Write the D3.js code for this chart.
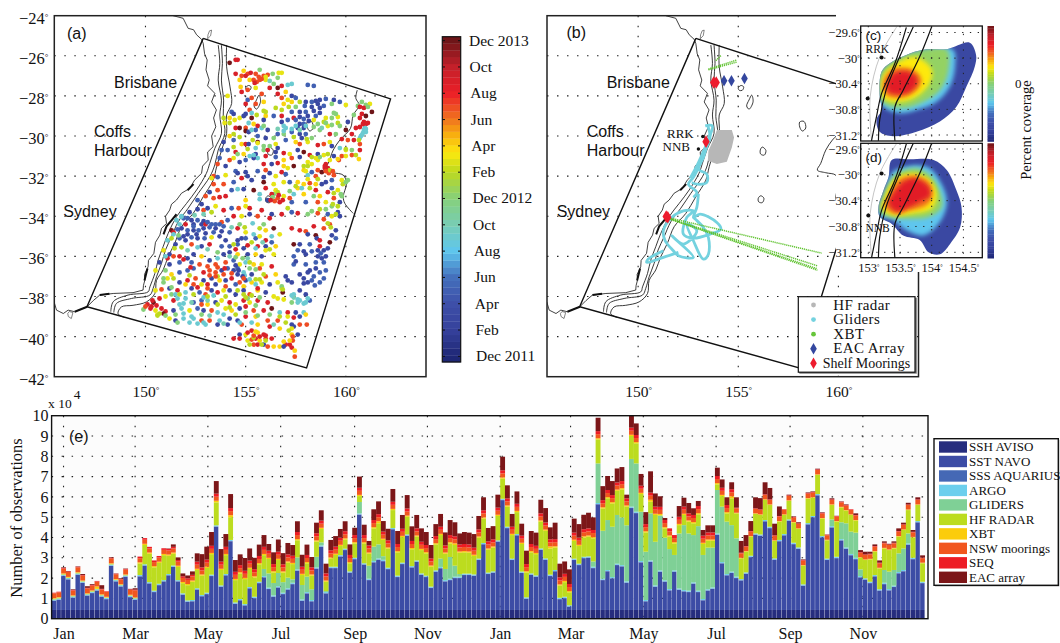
<!DOCTYPE html>
<html>
<head>
<meta charset="utf-8">
<title>Observation coverage</title>
<script src="https://cdn.jsdelivr.net/npm/d3@7/dist/d3.min.js"></script>
<style>
	html, body { margin: 0; padding: 0; background: #fff; }
	svg { display: block; }
	.serif { font-family: "Liberation Serif", serif; fill: #111; }
	.sans { font-family: "Liberation Sans", sans-serif; fill: #111; }
</style>
</head>
<body>
<div id="chart"></div>
<script>
// ---- map outlines, lon/lat
const domainBox = [[152.88,-25.13],[162.23,-28.15],[158.04,-41.56],[147.08,-38.51],[152.88,-25.13]];
const coast = [[151.38,-24],[151.88,-24.13],[152.13,-24.63],[152.4,-24.7],[152.55,-24.95],[152.8,-25.18],[152.88,-25.38],[152.95,-25.9],[153.08,-26.21],[153.02,-26.7],[153.18,-27.21],[153.1,-27.5],[153.46,-27.87],[153.3,-28.3],[153.54,-28.7],[153.4,-29.1],[153.51,-29.54],[153.3,-30],[153.38,-30.53],[153.1,-30.8],[153.13,-31.2],[152.85,-31.5],[152.8,-31.86],[152.45,-32.2],[152.21,-32.61],[151.8,-32.85],[151.55,-33.19],[151.3,-33.4],[151.21,-33.69],[151,-34],[151.05,-34.36],[150.8,-34.6],[150.72,-34.94],[150.5,-35.3],[150.42,-35.85],[150.15,-36.2],[150.13,-36.52],[149.95,-36.9],[149.97,-37.18],[149.9,-37.45],[149.88,-37.68],[149.38,-37.81],[148.39,-37.85],[147.72,-37.93],[147.4,-38.2],[147.09,-38.51],[146.47,-38.76],[146.14,-38.68],[145.9,-38.85],[145.56,-38.68],[145.44,-38.27]];
const coastThick = [[[151.55,-33.9],[151.3,-34.2],[151.05,-34.5],[150.9,-34.9]],[[147.72,-37.93],[148.2,-37.86]],[[146.47,-38.76],[147.09,-38.51]],[[150.1,-36.6],[149.95,-37.2]],[[152.4,-32.4],[152.1,-32.7]]];
const coastLoops = [[[153.2,-24.75],[153.3,-24.72],[153.25,-25],[153.1,-25.15],[153.12,-24.95]],[[146.2,-38.75],[146.38,-38.8],[146.3,-39.1],[146.15,-39],[146.12,-38.85]]];
const isobaths = [
	[[153.63,-25.46],[153.71,-26.38],[153.63,-27.21],[153.79,-28.21],[153.71,-28.95],[153.79,-29.87],[153.46,-30.62],[153.21,-31.36],[153.04,-31.86],[152.55,-32.69],[152.05,-33.36],[151.55,-34.02],[151.13,-34.86],[150.88,-35.52],[150.63,-36.19],[150.47,-36.85],[150.22,-37.52],[150.13,-37.77],[149.13,-37.93],[148.39,-38.26],[148.27,-38.76]],
	[[153.79,-25.46],[153.84,-26.38],[153.79,-27.21],[153.9,-28.21],[153.88,-29.03],[153.96,-29.87],[153.63,-30.7],[153.46,-31.44],[153.21,-32.03],[152.63,-32.86],[152.13,-33.6],[151.63,-34.28],[151.3,-35.02],[151,-35.68],[150.8,-36.35],[150.55,-37.02],[150.38,-37.6],[150.22,-37.93],[149.3,-38.1],[148.55,-38.35],[148.42,-38.8]],
	[[154.05,-25.46],[154.05,-26.55],[154.22,-27.55],[154.3,-28.38],[154.05,-28.95],[154.05,-29.87],[153.8,-30.7],[153.55,-31.53],[153.38,-32.2],[152.88,-33.03],[152.38,-33.86],[151.8,-34.52],[151.46,-35.35],[151.13,-36.02],[150.88,-36.68],[150.55,-37.2],[150.47,-37.85],[150.05,-38.27],[149.38,-38.44],[148.8,-38.52],[148.63,-38.86],[148.97,-39.05]],
	[[160.57,-27.71],[160.5,-28.12],[160.67,-28.46],[160.37,-28.95],[160.23,-29.62],[159.7,-30.2],[159.37,-30.7],[159.12,-31.36],[158.95,-31.7],[159.37,-31.83],[159.87,-31.95],[160.03,-32.36],[159.87,-33.03],[159.95,-33.36],[160.37,-33.86]]
];
const seamounts = [
	[[155,-27.6],[155.14,-27.48],[155.27,-27.55],[155.2,-27.72],[155.05,-27.72]],
	[[155.67,-27.96],[155.74,-28.29],[155.54,-28.66],[155.42,-28.5],[155.54,-28.2]],
	[[158.07,-29.3],[158.28,-29.27],[158.37,-29.6],[158.2,-29.75],[158.07,-29.55]],
	[[156.1,-30.7],[156.2,-30.55],[156.38,-30.72],[156.3,-30.95],[156.12,-30.9]],
	[[156,-33.1],[156.12,-32.98],[156.28,-33.1],[156.2,-33.32],[156.02,-33.28]]
];

// ---- panel (a): profile positions, [lon, lat, months since Dec 2011]
const profiles = [
[154.2,-26.35,24],[154.5,-26.2,21],[154.6,-26.2,21],[154.5,-26.9,21],[154.9,-26.75,16],[155.1,-26.9,19],[154.7,-27.2,16],[154.8,-27,19],[155,-27,21],[155.2,-27.2,16],[155.7,-26.7,12],[156,-27.2,15],[155.8,-27.15,19],[155.55,-27.3,19],[155.7,-27.2,19],[155.4,-27.2,19],[155.45,-27.35,21],[155.9,-27,19],[156.35,-26.9,12],[156.6,-27.1,12],[156.8,-26.85,15],[156.65,-26.85,15],[156.1,-26.95,19],[154.75,-27.55,16],
[154.8,-27.8,21],[155.1,-27.7,19],[155.5,-27.6,15],[155.8,-27.9,19],[156.2,-27.6,21],[156.6,-27.6,24],[156.8,-27.5,21],[157.1,-27.45,9],[157.3,-27.4,9],[158.1,-27.45,5],[158.4,-27.5,5],[156.6,-27.9,21],[157,-27.8,16],[156.8,-28.1,19],[157.3,-28,3],[157.5,-28.1,5],[157.1,-28.2,15],[156.9,-28.4,16],[157.3,-28.3,16],[155.1,-28.2,5],[155.3,-28.1,19],[154.1,-28,15],[155,-28.4,21],[155.5,-28.4,19],[155.9,-28.3,16],[158,-28.3,3],[158.3,-28.3,5],[158.5,-28.25,3],[158.7,-28.2,3],[159,-28.15,5],[159.4,-28.2,3],[158.6,-28.4,3],[158.9,-28.5,5],[159.3,-28.4,12],[159.7,-28.3,5],[160,-28.45,15],[160.6,-28.5,12],[160.7,-28.55,21],[161,-28.45,12],[161.2,-28.4,15],[160.9,-28.6,21],[161.3,-28.8,24],
[154.3,-28.8,5],[154.4,-28.9,3],[154.2,-29.1,16],[154.45,-29.2,15],[154.7,-29.1,15],[154.9,-29,3],[155,-28.9,3],[155.2,-28.7,19],[155.3,-29.1,24],[156,-29,16],[155.9,-29.2,3],[155.4,-29.4,16],[155.6,-29.5,21],[156.4,-29,5],[156.8,-29,21],[157.3,-28.8,5],[157.7,-28.8,3],[157.4,-29.1,21],[157.1,-29.2,5],[156.8,-29.3,3],[158,-28.8,5],[158.1,-29,3],[158.4,-28.75,3],[158.5,-29,5],[158.7,-28.85,3],[159,-29.1,15],[159.3,-29.1,12],[159.6,-29.05,15],[159.5,-28.9,12],[158.4,-29.2,15],[158.6,-29.4,12],[159.1,-29.5,15],[159.3,-29.45,12],[160.1,-29.3,3],[160.4,-28.95,12],[160.8,-28.9,21],[160.7,-29.1,21],[161,-29,24],[160.9,-29.3,21],[161,-29.4,21],[161.1,-29.35,21],[157.5,-29.2,5],[157.7,-29.4,3],[157.9,-29.4,5],[157.6,-29.6,3],[157.9,-29.6,3],[158,-29.5,9],[156.9,-29.5,9],[157,-29.6,9],
[154.5,-29.6,21],[154.7,-29.6,24],[155,-29.6,19],[155,-29.75,24],[155.15,-29.8,3],[155.5,-29.7,5],[155.8,-29.6,9],[156.1,-29.7,3],[156.6,-29.9,5],[156.9,-29.9,12],[157.3,-29.8,5],[157.7,-29.9,3],[158,-29.9,5],[157.8,-30.1,3],[158.3,-30.1,12],[158.7,-29.7,12],[159.2,-29.9,21],[159.5,-29.9,12],[160,-29.7,24],[160.3,-29.9,21],[160.5,-29.6,21],[160.9,-29.7,9],[161,-29.8,9],[160.75,-30,9],[160.7,-30.1,9],[160.4,-30.2,21],[160.1,-30.2,19],[159.8,-30.15,21],[154.2,-30,16],[154.4,-30.2,5],[153.9,-30.3,3],[154.8,-30.4,16],[155,-30.4,21],[155.15,-30.4,3],[155.6,-30,5],[156,-30.1,3],[155.6,-30.3,24],[156.2,-30.5,12],[156.5,-30.4,15],[156.6,-30.6,3],[157,-30.2,5],[157.5,-30.3,16],[157.7,-30.4,19],[158.1,-30.3,15],[158.6,-30.45,21],[158.9,-30.4,19],[159.2,-30.3,15],[159.3,-30.5,3],[159.7,-30.6,9],[160,-30.7,15],[160.3,-30.7,12],[160.7,-30.7,21],[160.7,-30.4,19],
[153.8,-30.7,5],[154.1,-30.7,5],[154.5,-30.8,21],[154.9,-30.9,16],[155.2,-31,9],[155.5,-30.9,3],[155.9,-30.7,12],[156.1,-30.7,21],[156.5,-30.8,3],[156.9,-30.85,21],[157.2,-30.9,15],[157.6,-30.7,3],[157.9,-30.8,24],[158.2,-30.95,21],[158.6,-30.9,3],[158.9,-30.95,15],[159.4,-31,3],[159.8,-31,19],[160,-31,15],[160.3,-30.95,19],[160.65,-31.15,16],[159.65,-31.2,19],[159.2,-31.2,15],[158.6,-31.2,15],[158.3,-31.4,15],[158.1,-31.3,15],[157.7,-31.05,3],[157.3,-31.1,19],[156.9,-31.2,16],[156.5,-31.05,5],[156,-31,21],[155.6,-31.1,9],[155.4,-31.1,3],[155,-31.2,5],[154.7,-31.3,3],[154.4,-31.1,15],[154.2,-31.2,19],[153.7,-31.1,5],[153.6,-31.4,19],[154,-31.5,3],[155.9,-31.4,21],[156.3,-31.4,3],[156.6,-31.35,21],[156.9,-31.5,16],[157.4,-31.5,24],[159,-31.4,21],[158.95,-31.5,21],[159.1,-31.6,21],
[153.4,-32,19],[153.3,-32.1,15],[153.6,-32.05,5],[154,-31.95,15],[154.5,-31.75,5],[154.6,-31.85,3],[155,-31.8,3],[155.1,-32,3],[155.6,-31.75,5],[156,-31.7,19],[156.2,-31.85,3],[156.5,-32,15],[156.8,-31.8,21],[157,-31.9,5],[157.2,-32.3,5],[157.9,-31.7,16],[158.1,-31.95,9],[158.3,-31.8,5],[158.6,-31.7,19],[158.5,-32,19],[158.8,-31.8,24],[159.15,-31.85,19],[159.4,-31.95,19],[159.8,-32.2,15],[160.1,-32.2,12],[159.3,-32.2,5],[159,-32.3,3],[158.8,-32.4,3],[158.5,-32.4,16],[158.2,-32.35,19],[157.9,-32.4,16],[157.6,-32.3,16],[156.9,-32.3,15],[156.4,-32.4,15],[155.9,-32.3,24],[155.3,-32.2,3],[154.8,-32.1,21],[154.4,-32.3,5],[153.9,-32.4,19],[153.4,-32.4,19],[155.9,-32.05,3],[157.1,-31.6,15],[158,-31.75,15],[158.1,-32.15,15],
[153.2,-32.8,3],[153.6,-32.7,19],[153.4,-33.1,19],[153,-33,19],[152.6,-33.2,5],[152.8,-33.4,3],[154,-33,21],[153.7,-33.05,21],[154.3,-32.7,5],[154.6,-32.65,9],[154.9,-32.65,3],[155,-33.2,16],[155.4,-32.7,24],[155.7,-32.9,9],[156,-32.6,21],[156.4,-32.9,12],[156.5,-32.7,15],[156.6,-33.1,19],[156.3,-32.9,21],[156.7,-33.3,21],[156.9,-33,15],[157.4,-32.9,9],[157.6,-32.6,16],[157.9,-32.9,16],[158,-33.3,5],[157.3,-33.3,5],[158.5,-32.7,21],[158.7,-33,16],[159.1,-32.8,21],[159.3,-32.6,5],[159.6,-32.7,15],[159.8,-33,12],[159.4,-33.1,19],[159,-33.3,15],[158.6,-33.3,19],[159.7,-33.3,3],[157.2,-33.1,19],[156.85,-33.2,21],[156.1,-33.2,3],
[152.2,-33.8,3],[152.6,-33.65,3],[152.9,-33.7,19],[153.1,-33.6,3],[153.5,-33.5,15],[153.9,-33.7,21],[154.3,-33.6,5],[154.65,-33.6,19],[155,-33.5,15],[155.2,-33.6,21],[155.8,-33.7,21],[156.3,-33.9,3],[156.8,-33.9,21],[157.3,-33.8,5],[157.6,-33.85,21],[158.1,-33.9,12],[158.6,-33.85,19],[159.1,-33.9,5],[159.3,-33.5,12],[159.6,-33.8,3],[159.7,-34,3],[159.3,-34,15],[158.9,-34.15,19],[151.8,-34,9],[151.9,-34.1,5],[152.1,-34.1,5],[152.3,-34.2,3],[152.6,-34.2,5],[152.4,-34.4,3],[152.8,-34.4,3],[152.9,-34.25,3],[153,-34.4,21],[153.3,-34.4,5],[153.5,-34.4,5],[153.8,-34.3,19],[154.1,-34.2,5],[154.4,-34,21],[154.8,-34,15],[155.2,-33.9,3],[155.6,-34,19],[156.2,-34.1,21],[153.7,-34.4,5],[153.9,-34.5,5],[152,-34.4,21],[151.7,-34.4,9],
[151.3,-34.7,24],[151.4,-34.8,21],[151.6,-34.65,5],[151.8,-34.6,3],[152.1,-34.7,5],[152.4,-34.7,3],[152.65,-34.7,5],[152.9,-34.6,3],[153.2,-34.55,5],[153.5,-34.6,3],[153.8,-34.75,3],[154.2,-34.8,5],[154.6,-34.6,21],[155,-34.8,15],[155.4,-34.9,9],[156,-34.7,16],[156.4,-34.6,24],[157.3,-34.6,21],[157.7,-34.7,21],[158,-34.75,19],[158.4,-34.5,21],[158.9,-34.6,19],[159.2,-34.4,19],[159.5,-34.7,3],[159.3,-34.95,3],[158.5,-34.95,24],[158.1,-34.9,3],[156.7,-34.9,15],[156.3,-35,9],[151.1,-35.2,9],[151.7,-35.1,5],[151.9,-35,3],[152,-35.2,3],[152.3,-35.05,5],[152.6,-35.1,3],[152.95,-35.1,5],[153.3,-35.05,15],[153.7,-35,3],[154,-35.2,3],[154.6,-35.2,3],[154.8,-35.1,3],[155,-35.1,5],[155.5,-35.1,5],[155.7,-35,15],[156,-35.2,21],[156.3,-35.3,5],[157.4,-35.4,24],[157.7,-35.4,3],[158.2,-35.4,5],[158.55,-35.1,3],[158.7,-35.2,21],[159.2,-35.3,24],[159.5,-35.1,5],[151.5,-35.4,3],[152.3,-35.4,19],[152.8,-35.5,3],[153.2,-35.4,21],[153.8,-35.5,5],[154.2,-35.5,5],[154.6,-35.4,5],[155.1,-35.45,21],[155.6,-35.5,21],[156,-35.5,3],[156.5,-35.5,16],
[150.9,-35.7,15],[151.2,-35.9,3],[151.1,-36.1,21],[151.4,-36,19],[151.7,-36,21],[152.1,-36.1,3],[152.4,-35.9,3],[152.8,-36,16],[153.2,-36.2,3],[153.6,-36.1,9],[153.9,-35.9,3],[154.2,-35.8,3],[154.6,-35.9,16],[155.1,-35.9,3],[155.5,-35.9,16],[155.8,-36,3],[156,-35.7,15],[156.4,-35.9,15],[157.4,-36,5],[158,-35.9,3],[158.6,-36,3],[158.9,-35.7,3],[159,-36,3],[159.1,-35.6,3],[158.7,-35.5,21],[157.4,-36.4,5],[158,-36.4,5],[158.5,-36.3,5],[158.9,-36.3,5],[150.7,-36.3,3],[151.2,-36.4,3],[151.7,-36.3,5],[152.3,-36.3,5],[152.7,-36.4,19],[153.1,-36.5,19],[153.5,-36.4,19],[154,-36.3,19],[154.4,-36.2,5],[154.7,-36.4,15],[155,-36.3,9],[155.4,-36.4,16],[155.8,-36.4,15],[156.3,-36.5,21],
[150.5,-36.7,15],[151,-36.7,12],[151.3,-36.9,16],[151.7,-36.8,5],[152.1,-36.7,5],[152.4,-36.6,5],[152.9,-36.8,21],[153.2,-36.7,19],[153.5,-36.8,19],[153.8,-36.7,3],[154.1,-36.6,5],[154.4,-36.7,3],[154.6,-36.9,3],[154.9,-36.8,9],[155.3,-36.9,3],[155.7,-36.6,19],[156,-37,19],[156.5,-36.9,16],[157,-37,3],[157.7,-36.9,3],[158.1,-36.8,3],[158.4,-37,5],[158.7,-36.8,5],[159,-36.7,5],[157.9,-37.1,3],[158.3,-37.2,5],[158.7,-37.3,5],[158.9,-37.1,5],[157.3,-37.3,3],[157.1,-37.2,3],[156.6,-37.3,15],[156.2,-37.4,3],[155.8,-37.3,15],[155.3,-37.3,16],[155,-37.2,3],[154.7,-37.3,19],[154.3,-37.1,21],[154,-37.2,3],[153.7,-37.2,16],[153.3,-37.1,3],[152.9,-37.2,3],[152.5,-37.1,19],[152.1,-37.2,21],[151.7,-37.3,3],[151.1,-37.1,15],[150.9,-37.1,12],[152,-37.4,16],[152.4,-37.4,19],[152.8,-37.4,15],[153.1,-37.4,21],[153.5,-37.4,3],[154,-37.5,19],[154.5,-37.4,5],[154.9,-37.5,16],[155.5,-37.4,9],
[150.5,-37.7,15],[150.8,-37.65,19],[151.2,-37.6,3],[151.6,-37.7,21],[152,-37.8,9],[152.3,-37.6,3],[152.7,-37.8,5],[153,-37.9,19],[153.3,-37.7,3],[153.6,-37.8,21],[153.9,-37.7,15],[154.2,-37.7,3],[154.5,-37.9,3],[154.9,-37.7,3],[155.2,-37.9,19],[155.6,-37.7,16],[156,-37.8,3],[156.4,-38,15],[156.8,-37.6,15],[156.85,-37.8,24],[157.4,-37.9,9],[157.7,-37.7,3],[158,-37.9,3],[158.2,-38.2,5],[158,-38.3,9],[157.7,-38.2,9],[157.3,-38.3,12],[156.9,-38.15,15],[156.6,-38.1,15],[156.1,-38.3,21],[155.6,-38.2,21],[155.2,-38.3,15],[154.9,-38.2,21],[154.5,-38.4,15],[154.2,-38.3,21],[153.8,-38.2,15],[153.5,-38.3,3],[153.1,-38.4,16],[152.8,-38.2,5],[152.4,-38.3,5],[152,-38.1,9],[151.7,-38.4,9],[151.4,-38.2,21],[151,-38,15],[150.7,-38.1,21],[150.4,-38.3,24],[150.1,-38.4,21],[150.3,-38.5,21],[152.8,-38.4,19],[151.3,-37.9,12],
[149.9,-38.65,12],[150,-38.5,19],[150.25,-38.6,21],[150.5,-38.7,15],[150.8,-38.6,21],[151,-38.75,21],[151.4,-38.7,3],[151.8,-38.6,9],[152.2,-38.7,15],[152.6,-38.6,5],[152.9,-38.7,3],[153.3,-38.7,19],[153.6,-38.8,9],[154,-38.6,15],[154.3,-38.7,16],[154.7,-38.6,3],[155,-38.5,21],[155.4,-38.7,19],[155.9,-38.7,21],[156.3,-38.6,24],[156.7,-38.8,9],[157.1,-38.8,21],[157.5,-38.8,3],[157.9,-38.8,9],[158,-38.9,16],[157.7,-39,3],[157.4,-39.05,21],[157.1,-39,15],[156.6,-39.2,19],[156.1,-39.2,19],[155.5,-39,16],[155,-39,21],[154.6,-39.2,3],[154.2,-39.1,3],[153.7,-39.2,9],[153.2,-39.2,19],[152.8,-39.2,19],[152.4,-39.1,9],[151.9,-39.1,9],[151.5,-39.2,3],[151.2,-39.1,15],[150.6,-38.9,15],[150.9,-38.85,24],[152.6,-39.35,9],[153,-39.4,9],[153.6,-39.4,3],[154.1,-39.4,3],[154.8,-39.4,19],[155.6,-39.4,16],[156.2,-39.5,21],[157.3,-39.4,3],[157.7,-39.4,19],[158.05,-39.4,19],[157.4,-39.5,3],
[154.7,-39.9,3],[155,-39.9,15],[155.3,-39.7,21],[155.6,-39.8,16],[155.1,-39.8,21],[155.9,-39.9,21],[156,-40.1,19],[156.3,-40.1,21],[156.7,-39.6,16],[157.3,-39.9,16],[157.6,-39.9,3],[157.3,-39.6,15],[154.4,-40.1,21],[154.7,-40.1,21],[155.1,-40.2,15],[155.4,-40.4,19],[155.5,-40.1,21],[155.7,-40.2,16],[155.3,-40.15,19],[155.9,-40.4,3],[156.1,-40.5,19],[156.4,-40.5,16],[156.7,-40.5,16],[157,-40.4,21],[157.2,-40.4,21],[157.35,-40.2,19],[157.35,-40,19],[157.3,-40.55,21],[157.45,-40.7,16],[157.45,-41,19],[156.9,-40.5,3],[155.6,-40.4,21],[156.9,-40.25,16],
[151.8,-34.02,9],[151.4,-34.9,9],[151,-36,9],[152.1,-35.7,10],[151.5,-37.9,9],[151.6,-38.1,9],[151.9,-38.35,9],[152.3,-38.3,10],[152.9,-38.05,9],[153.1,-38.2,10],[153.4,-37.95,9],[154.2,-36,10],[154.5,-36.05,12],[154.85,-36.1,12],[155.1,-36.1,10],[155.2,-36.6,12],[154.95,-36.95,9],[155.2,-37.15,9],[155.5,-37.15,14],[155.7,-37.15,14],[154.6,-37.7,14],[154.9,-37.9,14],[155.3,-37.95,14],[155.1,-38.1,12],[155.7,-38.05,12],[156.8,-37.5,12],[156.85,-37.65,14],[157.4,-38.05,10],[157.6,-38.15,9],[157.9,-38.35,9],[158.1,-38.1,9],[157.6,-38.3,9],[157.3,-37.95,9],[155.2,-36.3,14],[155.5,-36.65,12],[155.9,-36.9,14],[153.6,-37,14],[152.2,-36.95,14],[151.4,-37.1,14],[150.9,-37.3,12],[151.3,-37.55,12],[151.7,-37.9,14],[152.4,-37.9,14],[153.1,-38,14],[153.6,-38.4,14],[154,-38,14],[154.2,-38.55,14],[155,-38.05,14],[155.5,-38.45,12],[150.6,-38.95,14],[150.7,-38.85,14],[151,-38.95,12],[151.5,-38.9,12],[151.9,-38.85,9],[152.3,-39,9],[152.8,-38.9,12],[153.2,-38.95,10],[153.9,-38.9,9],[154.5,-38.9,14],[155,-38.8,12],[155.6,-38.95,12],[156.2,-38.9,12],[156.7,-39,14],[157,-39.3,14],[156.4,-39.4,10],[155.3,-39.3,9],[154.7,-39.3,9],[153.9,-39.35,10],[152.9,-39.3,9],[152.2,-39.3,9],[151.6,-39.3,12],[155.4,-40.05,14],[155.8,-40.4,14],[156,-40.2,14],[155.2,-40.4,14],[157.2,-40.2,16],[157.15,-39.7,14],
[153.9,-29.1,14],[153.95,-29.35,15],[154.2,-29.35,14],[154.4,-29.9,14],[155.15,-29.35,9],[155.3,-29.7,9],[155.9,-29.5,12],[156.6,-29.65,10],[156.9,-29.75,9],[157.3,-29.65,9],[157.5,-29.5,9],[157.7,-29.7,10],[158.05,-30.15,14],[158.9,-29.3,14],[159,-29.35,12],[159.6,-29.35,14],[159.7,-29.5,12],[160.85,-29.85,9],[160.95,-29.6,9],[161,-29.65,9],[160.8,-29.95,9],[160.65,-30.2,14],[160,-30.65,14],[160.5,-30.95,14],[159.6,-31.15,16],[159.1,-30.9,14],[158.7,-31.05,12],[158.5,-31.1,15],[157.9,-31.5,14],[158.1,-31.5,14],[158.3,-31.05,14],[157.4,-30.05,14],[156.4,-30.1,12],[155.9,-30.5,12],[155.5,-30.6,9],[155.4,-30.95,9],[155.6,-30.35,15],[155.35,-30.2,14],[154.7,-30.05,14],[154.4,-30.55,14],[154.6,-30.9,12],[155.1,-30.65,14],[156.5,-28.6,14],[156,-28.8,14],[155.55,-28.95,14],[155.3,-28.85,9],[155.9,-28.75,14],[156.8,-28.7,14],[156.4,-27.4,12],[156.2,-27.25,10],[156,-27.05,15],[157.15,-28.55,14],[157.5,-28.55,12],[157.7,-28.3,14],[160.8,-28.3,12],[161.1,-28.55,12],[159.4,-28.85,12],[158.4,-29.55,12],[158.8,-29.6,10],[159.2,-31.7,14],[159.85,-32.4,14],[160,-32.3,12],[159.4,-32.85,14],[159.6,-33.5,14],[159.75,-32.9,12],[158.6,-32.15,14],[158.2,-32.6,14],[158.4,-33,12],[157.8,-32.6,9],[157.5,-32.5,14],[157.2,-32.75,12],[156.6,-32.8,14],[156.35,-33.05,12],[155.7,-33.15,9],[157.1,-33.6,14],[158.3,-33.75,12],[158.7,-33.65,14],[159,-33.65,12],[159.35,-33.4,14],[159.5,-33.9,14],[159.1,-34.35,14],[159.25,-34.55,14],[155.7,-34.6,14],[155.9,-34.4,12],[155.35,-34.35,9],[154.7,-34.4,12],[154.3,-34.55,10],[154.95,-34.55,14],[153.3,-33.8,14],[152.9,-33.9,10],[152.45,-33.95,10],[151.55,-34.2,9],[151.65,-34.95,12],[151.3,-35.1,14],[151.45,-35.6,14],[151.8,-35.55,14],[152.6,-35.55,9],[153.1,-35.65,10],[153.6,-35.8,12],[154.4,-35.4,14],[155.3,-35.3,14],[155.85,-35.3,10],[156.2,-35.65,14],[155.5,-35.6,9],[154.9,-35.6,3],[154.5,-35.65,21],[157.9,-35.75,3],
[152.4,-34.5,5],[152.1,-34.9,3],[152.55,-34.9,3],[153,-34.85,3],[153.4,-34.8,5],[153.1,-34.3,5],[154.6,-36.6,5],[154.5,-36.45,3],[154.65,-36.7,3],[154.85,-37,3],[158.2,-36.7,3],[158.5,-36.6,3],[158.8,-36.1,3],[158.75,-35.85,5],[158.3,-35.75,5],[157.6,-35.7,5],[157.5,-36.25,3],[158.1,-37.3,3],[157.9,-37.35,3],[158.45,-37.45,5],[157.7,-29.05,3],[157.9,-29.15,5],[158.15,-29.25,3],[158.7,-28.6,3],[158.3,-28.55,3],[157.95,-28.5,5],[158.6,-35.7,3],
[153.2,-36.95,19],[153.5,-37,19],[153.9,-36.9,19],[154.3,-36.85,19],[153.6,-36.55,19],[153.95,-36.6,21],[154.9,-37.1,19],[155.6,-37.6,21],[150.35,-38.2,21],[150.55,-38.45,21],[156,-39.95,21],[155.4,-39.95,19],[155.7,-40,21],[155.5,-39.75,16],[158.95,-31.6,21],[159,-31.75,19],[159.35,-31.75,19],[160.7,-29.55,21],[160.85,-29.4,21],[155.5,-26.9,19],[155.65,-27.05,19],[155.25,-26.85,21],[156.65,-32.95,21],[156.45,-33.25,19],[156.25,-33.2,21],[153.1,-37.6,19],[152.6,-37.55,21],[152.25,-36.55,21],[151.9,-36.15,21]
];
const colorbarLabels = ["Dec 2011","Feb","Apr","Jun","Aug","Oct","Dec 2012","Feb","Apr","Jun","Aug","Oct","Dec 2013"];
const colorbarMonths = [0,2,4,6,8,10,12,14,16,18,20,22,24];
const monthStops = [0,2,4,6,8,10,12,14,15.5,17,18,20,22,24];
const monthColours = ["#1e2775","#35419b","#3e4fa8","#4470bc","#5ec6ee","#78cdb4","#86d07a","#bcd91f","#fde90f","#f7a70f","#f0761f","#ec1f27","#c3202a","#6e1518"];

// ---- panel (b): observing network
const gliderTracks = [
	[[153.35,-29.49],[153.7,-29.49],[153.5,-30.2],[153.2,-30.9],[152.95,-31.45],[152.6,-32.1]],
	[[153.48,-29.49],[153.59,-30.07],[153.34,-30.73],[153.09,-31.4],[152.76,-32.06],[152.51,-32.4],[152.93,-32.81],[152.76,-33.06]],
	[[153.59,-29.9],[153.26,-31.07],[153.01,-31.65],[153.43,-31.9],[153.43,-32.31],[152.93,-32.4],[152.68,-32.31]],
	[[153.01,-32.89],[152.93,-33.56],[152.76,-34.06],[153.09,-33.89],[153.93,-34.31],[154.13,-34.64],[153.59,-34.89],[152.76,-35.09],[152.26,-34.89],[152.43,-34.06],[152.76,-33.73],[152.26,-33.73],[151.68,-34.06],[151.26,-34.72],[151.35,-35.22],[151.76,-35.72],[152.01,-35.97],[152.76,-36.05],[151.68,-34.97],[152.26,-35.39],[152.93,-34.72],[152.43,-34.39],[152.76,-35.22],[153.26,-36.14],[153.51,-35.89],[153.51,-35.06],[153.26,-34.56],[152.76,-34.06]],
	[[152.01,-35.8],[151.26,-36.05],[150.43,-36.3],[150.5,-36.14],[151.26,-35.72]]
];
const xbtTracks = [
	[[151.46,-34.06],[159.17,-35.84]],
	[[151.46,-34.08],[158.95,-36.47]],
	[[151.46,-34.1],[158.95,-36.69]],
	[[151.48,-34.1],[158.95,-36.62]],
	[[153.51,-26.66],[154.93,-26.21]],
	[[153.51,-26.7],[154.93,-26.31]],
	[[153.88,-26.24],[154.13,-25.99]]
];
const hfFootprint = [[153.93,-29.7],[154.68,-29.7],[154.79,-30.07],[154.68,-30.57],[154.43,-31.28],[153.93,-31.4],[153.48,-31.23],[153.51,-30.73],[153.73,-30.23]];
const eacMoorings = [[154.29,-27.24],[154.66,-27.24],[155.31,-27.13]];
const shelfMoorings = [[153.77,-27.33],[153.9,-27.33],[153.39,-30.28],[151.4,-34.01],[151.48,-34.05]];
const radarSites = [[153.23,-30.02],[153.01,-30.65]];
const networkLabels = ["HF radar","Gliders","XBT","EAC Array","Shelf Moorings"];

// ---- insets (c) (d): coverage levels, lowest first
const levelValues = [3,8,12.5,15.5,18,20.5];
const coverageC = [
	[[153.21,-30.21],[153.34,-30.08],[153.6,-29.95],[153.87,-29.87],[154.24,-29.86],[154.6,-29.76],[154.7,-29.95],[154.68,-30.13],[154.55,-30.44],[154.39,-30.76],[154.13,-30.99],[153.76,-31.15],[153.39,-31.22],[153.18,-31.15],[153.13,-30.96],[153.21,-30.81],[153.18,-30.6]],
	[[153.24,-30.76],[153.5,-30.86],[153.76,-30.81],[154.08,-30.68],[154.29,-30.44],[154.37,-30.13],[154.34,-29.87],[153.87,-29.87],[153.6,-29.95],[153.34,-30.08],[153.21,-30.21],[153.16,-30.5]],
	[[153.24,-30.7],[153.55,-30.78],[153.87,-30.68],[154.13,-30.5],[154.26,-30.21],[154.24,-29.87],[153.87,-29.87],[153.6,-29.95],[153.34,-30.08],[153.21,-30.21],[153.18,-30.5]],
	[[153.26,-30.65],[153.55,-30.68],[153.81,-30.57],[153.97,-30.39],[154,-30.18],[153.74,-29.98],[153.39,-30.11],[153.24,-30.26],[153.2,-30.5]],
	[[153.32,-30.6],[153.55,-30.61],[153.76,-30.5],[153.84,-30.34],[153.71,-30.18],[153.39,-30.17],[153.26,-30.31],[153.24,-30.5]],
	[[153.37,-30.55],[153.6,-30.55],[153.76,-30.42],[153.76,-30.3],[153.6,-30.21],[153.42,-30.23],[153.3,-30.37],[153.3,-30.5]]
];
const coverageD = [
	[[153.37,-29.77],[153.66,-29.76],[154.03,-29.77],[154.24,-29.93],[154.39,-30.24],[154.47,-30.5],[154.45,-30.81],[154.29,-31.07],[154.13,-31.23],[153.95,-31.2],[153.81,-31.01],[153.55,-30.94],[153.37,-30.76],[153.18,-30.65],[153.16,-30.5],[153.24,-30.24],[153.32,-30.03]],
	[[153.42,-29.93],[153.76,-29.85],[153.97,-29.9],[154.18,-30.19],[154.24,-30.44],[154.13,-30.73],[153.87,-30.94],[153.6,-30.86],[153.39,-30.7],[153.18,-30.63],[153.18,-30.44],[153.26,-30.24],[153.34,-30.03]],
	[[153.45,-29.98],[153.76,-29.9],[154,-30.03],[154.13,-30.26],[154.16,-30.5],[153.97,-30.65],[153.6,-30.68],[153.34,-30.65],[153.18,-30.57],[153.21,-30.39],[153.3,-30.19]],
	[[153.47,-30.03],[153.76,-29.98],[154,-30.11],[154.08,-30.32],[154,-30.52],[153.71,-30.6],[153.39,-30.63],[153.21,-30.52],[153.26,-30.34],[153.34,-30.16]],
	[[153.5,-30.06],[153.76,-30.02],[153.97,-30.13],[154.01,-30.32],[153.92,-30.47],[153.66,-30.55],[153.42,-30.6],[153.26,-30.49],[153.32,-30.34],[153.39,-30.19]],
	[[153.55,-30.11],[153.76,-30.06],[153.95,-30.19],[153.97,-30.32],[153.81,-30.42],[153.6,-30.52],[153.45,-30.57],[153.32,-30.44],[153.39,-30.29],[153.47,-30.19]]
];
const insetIsobaths = [
	[[153.05,-31.29],[153.13,-30.91],[153.21,-30.55],[153.42,-30.08],[153.6,-29.52]],
	[[153.16,-31.29],[153.18,-30.96],[153.28,-30.5],[153.45,-30.08],[153.71,-29.51]],
	[[153.42,-31.29],[153.42,-30.76],[153.55,-30.5],[153.81,-29.98],[154,-29.51]]
];
const insetCoast = [[153.05,-31.27],[153.03,-30.6],[153.18,-29.98],[153.45,-29.51]];
const insetLats = [-29.6,-30,-30.4,-30.8,-31.2];
const insetLons = [153,153.5,154,154.5];

// ---- panel (e): observation counts every 4 days (x 10^4)
const seriesNames = ["SSH AVISO","SST NAVO","SSS AQUARIUS","ARGO","GLIDERS","HF RADAR","XBT","NSW moorings","SEQ","EAC array"];
const seriesColours = ["#262d7e","#3c4ca5","#4568b5","#6ccfed","#7fd096","#bcdc1f","#fbcc0b","#f1561e","#ed1c24","#7c1618"];
const monthTickStep = 2;
const sshAviso = [
.43,.43,.43,.43,.43,.43,.43,.43,.43,.43,.43,.43,.43,.43,.43,.43,.43,.43,.43,.43,
.43,.43,.43,.43,.43,.43,.43,.43,.43,.43,.43,.43,.43,.43,.43,.43,.43,.43,.43,.43,
.43,.43,.43,.43,.43,.43,.43,.43,.43,.43,.43,.43,.43,.43,.43,.43,.43,.43,.43,.43,
.43,.43,.43,.43,.43,.43,.43,.43,.43,.43,.43,.43,.43,.43,.43,.43,.43,.43,.43,.43,
.43,.43,.43,.43,.43,.43,.43,.43,.43,.43,.43,.43,.43,.43,.43,.43,.43,.43,.43,.43,
.43,.43,.43,.43,.43,.43,.43,.43,.43,.43,.43,.43,.43,.43,.43,.43,.43,.43,.43,.43,
.43,.43,.43,.43,.43,.43,.43,.43,.43,.43,.43,.43,.43,.43,.43,.43,.43,.43,.43,.43,
.43,.43,.43,.43,.43,.43,.43,.43,.43,.43,.43,.43,.43,.43,.43,.43,.43,.43,.43,.43,
.43,.43,.43,.43,.43,.43,.43,.43,.43,.43,.43,.43,.43,.43,.43,.43,.43,.43,.43,.43,
.43,.43,.43];
// top of the dark-blue (SST + SSS + ARGO) stack as read
const sstTop = [
.95,1,2.17,2,1.1,2.23,1.83,1.2,1.33,1.45,
1.15,1.03,2.67,1.9,1.65,2.13,1.13,1,2.15,2.68,
1.8,1.38,1.72,1.9,2.2,2.62,1.9,1.25,.9,.92,
1.5,1.17,1.28,2.17,4.6,1.64,2.2,3.88,.8,.97,
.72,1.56,1.08,1.82,2.1,1.53,1.15,1.6,1.28,1.5,
1.77,2.43,.95,1.31,.92,2.53,3.61,1.31,2.56,2.56,
3.13,3.45,2.33,3,5.19,2.73,1.97,2.84,2.97,2.9,
2.51,4.47,2.12,2.76,4.15,2.59,2.87,2.23,2.12,1.58,
2.38,2.55,1.9,1.97,2.07,2.07,2.22,2.22,2.18,2.96,
3.73,2.27,2.33,3.86,5.91,4.53,2.96,4.17,2.32,1.05,
2.23,2.13,3.46,2.97,2.17,2.4,1.03,1.08,.66,2.96,
2.71,3.05,3.07,2.56,5.7,1.97,2.4,2.05,2.71,2.64,
1.84,5.52,5.27,2.84,.92,2.87,1.64,2.38,1.89,1.46,
2.38,1.49,1.41,1.38,1.79,1.38,.97,1.45,1.54,4.2,
2.79,2.2,2.32,2.07,1.95,2.28,3.1,4.2,4.15,4.86,
4.53,2.97,3.88,4.17,4.89,3.74,3.51,1.69,4.71,5.06,
6.14,4.07,2.96,4.56,3.05,3.92,3.51,3.19,3,2.1,
1.99,1.82,2.15,1.45,1.77,1.46,1.63,2.3,2.4,3.71,
3,4.81,1.82];
const sssAquarius = [
.02,.02,.02,.02,.02,.02,.02,.02,.02,.02,.02,.02,.02,.02,.02,.02,.02,.02,.02,.02,
.02,.02,.02,.02,.02,.02,.02,.02,.02,.02,.02,.02,.02,.02,.02,.02,.02,.02,.02,.02,
.02,.02,.02,.02,.02,.02,.02,.02,.02,.02,.02,.02,.02,.02,.02,.02,.02,.02,.02,.02,
.02,.02,.02,.02,.02,.02,.02,.02,.02,.02,.02,.02,.02,.02,.02,.02,.02,.02,.02,.02,
.02,.02,.02,.02,.02,.02,.02,.02,.02,.02,.02,.02,.02,.02,.02,.02,.02,.02,.02,.02,
.02,.02,.02,.02,.02,.02,.02,.02,.02,.02,.02,.02,.02,.02,.02,.02,.02,.02,.02,.02,
.02,.02,.02,.02,.02,.02,.02,.02,.02,.02,.02,.02,.02,.02,.02,.02,.02,.02,.02,.02,
.02,.02,.02,.02,.02,.02,.02,.02,.02,.02,.02,.02,.02,.02,.02,.02,.02,.02,.02,.02,
.02,.02,.02,.02,.02,.02,.02,.02,.02,.02,.02,.02,.02,.02,.02,.02,.02,.02,.02,.02,
.02,.02,.02];
const argo = [
.05,.05,.05,.05,.05,.05,.05,.05,.05,.05,.05,.05,.05,.05,.05,.05,.05,.05,.05,.05,
.05,.05,.05,.05,.05,.05,.05,.05,.05,.05,.05,.05,.05,.05,.05,.05,.05,.05,.05,.05,
.05,.05,.05,.05,.05,.05,.05,.05,.05,.05,.05,.05,.05,.05,.05,.05,.05,.05,.05,.05,
.05,.05,.05,.05,.05,.05,.05,.05,.05,.05,.05,.05,.05,.05,.05,.05,.05,.05,.05,.05,
.05,.05,.05,.05,.05,.05,.05,.05,.05,.05,.05,.05,.05,.05,.05,.05,.05,.05,.05,.05,
.05,.05,.05,.05,.05,.05,.05,.05,.05,.05,.05,.05,.05,.05,.05,.05,.05,.05,.05,.05,
.05,.05,.05,.05,.05,.05,.05,.05,.05,.05,.05,.05,.05,.05,.05,.05,.05,.05,.05,.05,
.05,.05,.05,.05,.05,.05,.05,.05,.05,.05,.05,.05,.05,.05,.05,.05,.05,.05,.05,.05,
.05,.05,.05,.05,.05,.05,.05,.05,.05,.05,.05,.05,.05,.05,.05,.05,.05,.05,.05,.05,
.05,.05,.05];
const gliders = [
0,0,0,0,0,0,0,0,0,0,0,0,0,0,0,0,0,0,0,0,
0,0,0,0,0,0,0,0,0,0,0,0,0,0,0,0,0,0,0,0,
0,0,0,0,.35,.7,.61,.65,.52,.52,
.17,.59,.71,.76,.53,.52,.15,.05,0,0,
0,0,0,0,.56,0,.64,.71,.69,.18,
0,0,0,0,0,0,0,0,0,0,
0,.41,.55,1.07,.54,.13,0,0,0,0,
0,0,0,0,0,0,0,0,0,0,0,0,0,0,0,0,0,0,0,0,
0,0,0,.26,1.95,2.36,2.46,2.48,2.4,2.35,
2.76,2.35,2.38,2.43,2.38,2.32,2.15,2.69,2.1,1.97,
.76,2.71,3.2,2.82,2.33,3.18,2.17,2.05,1.96,2.14,
2.73,2.58,2.29,1.89,0,0,0,0,0,0,
0,0,0,0,0,0,0,0,0,0,
0,0,0,.33,0,.83,1.19,1.1,1.24,.33,
0,0,0,0,.63,.86,.77,.92,1.06,.49,
0,0,0];
// top of the HF radar band as read
const hfTop = [
.98,1.03,2.2,2.03,1.12,2.26,1.85,1.22,1.36,1.47,
1.17,1.05,2.7,1.92,1.67,2.15,1.15,1.02,2.72,3.63,
3.2,2.53,2.75,3.13,3.1,3.2,2.55,1.75,1.65,1.82,
2.4,2.12,2.5,3.18,5.73,2.4,3.13,5,1.9,2.23,
1.95,2.45,2.03,2.68,3.13,2.94,2.28,2.89,2.27,2.76,
2.69,3.86,2.15,2.73,2.12,3.8,4.42,1.82,2.96,3.14,
3.58,3.9,2.73,3.71,6.04,3.71,3.2,4.45,4.7,3.88,
3.45,5.35,3.27,4.02,5.02,3.42,4.04,3.38,3.22,2.56,
3.66,4.12,3.2,3.71,3.63,3.25,3.27,3.25,3.09,3.99,
4.93,3.4,3.5,5.06,6.9,5.52,4.12,5.25,3.68,2.28,
3.27,3.18,4.78,4.33,3.46,3.51,1.63,1.8,1.3,3.83,
3.58,4,4.04,3.96,8.83,5.43,5.93,5.68,6.3,6.37,
5.52,9,8.64,6.14,4.25,5.76,5.11,5.1,4.45,4.04,
3.71,4.61,5.11,4.78,4.7,5.14,3.68,3.84,3.84,6.62,
6.04,5.19,5.93,5.19,2.97,3.3,4.04,5.16,5.11,5.85,
5.6,3.83,4.78,5.11,5.8,4.73,4.42,2.61,5.91,5.96,
7.08,4.93,3.86,5.6,4.78,5.48,5.32,5.11,4.83,3,
2.89,2.92,3.3,2.48,3.46,3.38,3.46,4.04,4.37,5.35,
4,5.6,2.73];
const xbt = [
.03,.03,.03,.03,.03,.03,.03,.03,.03,.12,.03,.03,.03,.03,.03,.03,.03,.03,.06,.06,
.06,.06,.06,.06,.06,.06,.06,.06,.06,.06,.06,.06,.06,.06,.08,.06,.06,.1,.06,.06,
.06,.06,.06,.06,.06,.06,.06,.06,.06,.06,.06,.06,.06,.06,.06,.06,.06,.06,.06,.06,
.06,.06,.06,.06,.06,.06,.06,.06,.1,.06,.06,.06,.06,.06,.06,.06,.06,.06,.06,.06,
.06,.06,.06,.06,.08,.06,.06,.06,.06,.06,.06,.06,.06,.06,.06,.06,.06,.06,.06,.06,
.06,.06,.06,.06,.1,.06,.06,.06,.06,.06,.06,.06,.06,.06,.06,.06,.06,.06,.06,.06,
.06,.06,.06,.06,.06,.1,.06,.06,.06,.06,.06,.06,.06,.06,.06,.06,.06,.06,.06,.06,
.06,.06,.1,.03,.03,.03,.03,.03,.03,.03,.03,.03,.03,.03,.03,.03,.03,.03,.03,.03,
.03,.03,.03,.03,.03,.03,.03,.03,.03,.03,.03,.03,.03,.03,.03,.03,.03,.03,.03,.03,
.03,.03,.03];
const nswMoorings = [
.24,.24,.24,.24,.24,.24,.24,.24,.24,.24,.24,.24,.24,.24,.24,.24,.24,.35,.2,.2,
.2,.2,.2,.2,.2,.2,.2,.2,.2,.2,.2,.2,.2,.2,.2,.2,.2,.2,.2,.2,
.2,.2,.2,.2,.2,.2,.2,.2,.2,.2,.2,.2,.2,.2,.2,.2,.2,.2,.2,.2,
.2,.2,.2,.2,.2,.2,.2,.2,.2,.2,.2,.2,.2,.2,.2,.2,.2,.2,.2,.2,
.2,.2,.2,.2,.2,.2,.2,.2,.2,.2,.2,.2,.2,.2,.2,.2,.2,.2,.2,.2,
.2,.2,.2,.2,.2,.2,.2,.2,.2,.2,.2,.2,.2,.2,.2,.2,.2,.2,.2,.2,
.2,.2,.2,.2,.2,.2,.2,.2,.2,.2,.2,.2,.2,.2,.2,.2,.2,.2,.2,.2,
.2,.2,.2,.22,.22,.22,.22,.22,.22,.22,.22,.22,.22,.22,.22,.22,.22,.22,.22,.22,
.22,.22,.22,.22,.22,.22,.22,.22,.22,.22,.22,.22,.22,.22,.22,.22,.22,.22,.22,.22,
.22,.22,.22];
const seq = [
.03,.03,.03,.03,.03,.03,.03,.03,.03,.03,.03,.03,.03,.03,.03,.03,.03,.03,.08,.08,
.08,.08,.08,.08,.08,.08,.08,.08,.08,.08,.15,.15,.15,.15,.15,.15,.15,.15,.15,.15,
.15,.15,.15,.15,.15,.15,.15,.15,.15,.15,.15,.15,.15,.15,.15,.15,.15,.15,.15,.15,
.15,.15,.15,.15,.15,.15,.15,.15,.15,.15,.15,.15,.15,.15,.15,.15,.15,.15,.15,.15,
.15,.15,.15,.15,.15,.15,.15,.15,.15,.15,.15,.15,.15,.15,.15,.15,.15,.15,.15,.15,
.15,.15,.15,.15,.15,.15,.15,.15,.15,.15,.15,.15,.15,.15,.15,.15,.15,.15,.15,.15,
.15,.15,.15,.15,.15,.15,.15,.15,.15,.15,.15,.15,.15,.15,.15,.15,.15,.15,.15,.15,
.15,.15,.15,.03,.03,.03,.03,.03,.03,.03,.03,.03,.03,.03,.03,.03,.03,.03,.03,.03,
.03,.03,.03,.03,.03,.03,.03,.03,.03,.03,.03,.03,.03,.03,.03,.03,.03,.03,.03,.03,
.03,.03,.03];
// top of each whole bar as read; EAC is what is left above SEQ
const totalTop = [
1.28,1.33,2.53,2.35,1.45,2.58,2.2,1.6,1.7,1.78,
1.65,1.35,3.03,2.23,2,2.47,1.47,1.5,3.05,3.97,
3.5,2.85,3.08,3.45,3.46,3.66,3.02,2.23,2.13,2.33,
3.22,3.18,3.55,4.27,6.78,3.43,4.17,6.14,2.89,3.17,
2.99,3.46,3,3.65,4.12,3.68,3.27,3.9,3.23,3.73,
3.63,4.8,3.15,3.65,3.04,4.73,5.34,2.71,3.88,4.07,
4.42,4.8,3.66,4.48,7,4.63,3.83,5.39,5.78,4.81,
4.43,6.39,4.32,5.11,6.09,4.55,5.11,4.45,4.27,3.63,
4.66,5.16,4.25,4.86,4.75,4.2,4.27,4.24,4.17,5.06,
5.98,4.47,4.56,6.11,7.98,6.57,5.16,6.27,4.68,3.35,
4.32,4.24,5.86,5.45,4.5,4.73,2.71,2.82,2.43,4.93,
4.66,5.12,5.22,4.99,9.9,6.53,7.03,6.78,7.4,7.47,
6.11,10,9.62,7.13,5.25,7.26,6.17,6.03,4.96,4.4,
4.12,5.55,5.96,5.7,5.44,5.8,4.37,4.6,4.6,7.44,
6.86,5.98,6.72,5.98,3.83,4.12,4.81,5.98,5.94,6.72,
6.44,4.68,5.53,5.39,6.11,5.04,4.75,2.92,6.22,6.27,
7.39,5.24,4.15,5.93,5.07,5.78,5.63,5.39,5.19,3.38,
3.3,3.3,3.66,2.87,3.81,3.69,3.81,4.45,4.73,5.71,
4.37,5.98,3.12];

// ---- drawing
const svg = d3.select("#chart").append("svg").attr("width", 1060).attr("height", 643);
const defs = svg.append("defs");
defs.append("filter").attr("id", "soft").attr("x", "-20%").attr("y", "-20%").attr("width", "140%").attr("height", "140%")
	.append("feGaussianBlur").attr("stdDeviation", 2);

const monthColour = d3.scaleLinear(monthStops, monthColours).clamp(true);
const minus = s => String(s).replace("-", "\u2212");

function addDegrees(sel, fontSize) {
	sel.selectAll(".tick text").append("tspan").attr("dy", "-0.45em").attr("font-size", fontSize).text("\u00b0");
}

function clipRect(id, x, y, w, h) {
	defs.append("clipPath").attr("id", id).append("rect").attr("x", x).attr("y", y).attr("width", w).attr("height", h);
}

function drawMap(id, left, right) {
	const x = d3.scaleLinear([145.45, 164], [left, right]);
	const y = d3.scaleLinear([-24, -42], [15.7, 376.7]);
	const line = d3.line().x(d => x(d[0])).y(d => y(d[1]));
	const g = svg.append("g");
	clipRect(id, left, 15.7, right - left, 361);

	const grid = g.append("g").attr("stroke", "#222").attr("stroke-width", 1.1).attr("stroke-dasharray", "1.5,8.5");
	grid.selectAll("line.h").data(d3.range(-26, -41, -2)).join("line").attr("x1", left).attr("x2", right).attr("y1", y).attr("y2", y);
	grid.selectAll("line.v").data([150, 155, 160]).join("line").attr("x1", x).attr("x2", x).attr("y1", 15.7).attr("y2", 376.7);

	const outlines = g.append("g").attr("clip-path", `url(#${id})`).attr("fill", "none");
	outlines.selectAll("path.iso").data(isobaths).join("path").attr("class", "iso")
		.attr("d", line.curve(d3.curveCatmullRom)).attr("stroke", "#222").attr("stroke-width", 0.9);
	outlines.selectAll("path.sea").data(seamounts).join("path").attr("class", "sea")
		.attr("d", line.curve(d3.curveCatmullRomClosed)).attr("stroke", "#222").attr("stroke-width", 0.9);
	outlines.selectAll("path.loop").data(coastLoops).join("path").attr("class", "loop")
		.attr("d", line.curve(d3.curveLinearClosed)).attr("stroke", "#333").attr("stroke-width", 0.6);
	line.curve(d3.curveLinear);
	outlines.append("path").attr("d", line(coast)).attr("stroke", "#111").attr("stroke-width", 0.8);
	outlines.selectAll("path.thick").data(coastThick).join("path").attr("class", "thick")
		.attr("d", line).attr("stroke", "#111").attr("stroke-width", 2);
	g.append("path").attr("d", line(domainBox)).attr("fill", "none").attr("stroke", "#111").attr("stroke-width", 1.4);
	return { g, x, y, line, left, right };
}

function drawMapFrame(m) {
	m.g.append("rect").attr("x", m.left).attr("y", 15.7).attr("width", m.right - m.left).attr("height", 361)
		.attr("fill", "none").attr("stroke", "#222").attr("stroke-width", 1.5);
	m.g.append("g").attr("transform", "translate(0,376.7)")
		.call(d3.axisBottom(m.x).tickValues([150, 155, 160]).tickSize(0).tickPadding(9).tickFormat(d3.format("d")))
		.call(a => a.select(".domain").remove())
		.call(a => a.selectAll("text").attr("class", "serif").attr("font-size", 15.5))
		.call(a => addDegrees(a, 9));
}

function placeNames(m, names) {
	m.g.selectAll("text.place").data(names).join("text").attr("class", "place sans")
		.attr("x", d => d[1]).attr("y", d => d[2]).attr("font-size", 16).text(d => d[0]);
}

// panel (a)
const mapA = drawMap("clipA", 54.3, 426);
mapA.g.append("g").selectAll("circle").data(profiles).join("circle")
	.attr("cx", d => mapA.x(d[0])).attr("cy", d => mapA.y(d[1])).attr("r", 2.4)
	.attr("fill", d => monthColour(d[2]));
drawMapFrame(mapA);
mapA.g.append("g").attr("transform", "translate(54.3,0)")
	.call(d3.axisLeft(mapA.y).tickValues(d3.range(-24, -43, -2)).tickSize(0).tickPadding(6).tickFormat(minus))
	.call(a => a.select(".domain").remove())
	.call(a => a.selectAll("text").attr("class", "serif").attr("font-size", 16.5).attr("dy", "0.45em"))
	.call(a => addDegrees(a, 9));
placeNames(mapA, [["Brisbane", 114, 88], ["Coffs", 94, 136.7], ["Harbour", 94, 155.7], ["Sydney", 63.3, 216.7]]);
mapA.g.append("text").attr("class", "sans").attr("x", 67).attr("y", 39).attr("font-size", 16).text("(a)");

// month colour bar
const barY = d3.scaleLinear([-0.43, 24.3], [362, 36.7]);
const barG = svg.append("g");
const barSteps = d3.range(48).map(i => -0.43 + i * (24.73 / 48));
barG.selectAll("rect").data(barSteps).join("rect")
	.attr("x", 442.3).attr("width", 18.4)
	.attr("y", d => barY(d + 24.73 / 48)).attr("height", d => barY(d) - barY(d + 24.73 / 48) + 0.3)
	.attr("fill", d => monthColour(d + 0.25));
barG.append("rect").attr("x", 442.3).attr("y", 36.7).attr("width", 18.4).attr("height", 325.3)
	.attr("fill", "none").attr("stroke", "#111").attr("stroke-width", 1.2);
barG.selectAll("line.l").data(colorbarMonths).join("line").attr("class", "l").attr("x1", 442.3).attr("x2", 445)
	.attr("y1", barY).attr("y2", barY).attr("stroke", "#111");
barG.selectAll("line.r").data(colorbarMonths).join("line").attr("class", "r").attr("x1", 458).attr("x2", 460.7)
	.attr("y1", barY).attr("y2", barY).attr("stroke", "#111");
const labelX = d3.scaleLinear([0, 24], [476, 469]);
barG.selectAll("text").data(colorbarMonths).join("text").attr("class", "serif")
	.attr("x", labelX).attr("y", d => barY(d) + 5).attr("font-size", 15.5)
	.text((d, i) => colorbarLabels[i]);

// panel (b)
const mapB = drawMap("clipB", 547, 918.5);
const lineB = mapB.line;
const overlayB = mapB.g.append("g").attr("clip-path", "url(#clipB)");
overlayB.append("path").attr("d", lineB(hfFootprint) + "Z").attr("fill", "#b7b7b7");
overlayB.selectAll("path.glider").data(gliderTracks).join("path").attr("class", "glider")
	.attr("d", d3.line().x(d => mapB.x(d[0])).y(d => mapB.y(d[1])).curve(d3.curveCatmullRom))
	.attr("fill", "none").attr("stroke", "#74d2df").attr("stroke-width", 2.8);
overlayB.selectAll("path.xbt").data(xbtTracks).join("path").attr("class", "xbt")
	.attr("d", lineB).attr("fill", "none").attr("stroke", "#5fc22f").attr("stroke-width", 1.5).attr("stroke-dasharray", "1.2,0.8");
const diamond = d3.symbol().type(d3.symbolDiamond);
overlayB.selectAll("path.eac").data(eacMoorings).join("path").attr("class", "eac")
	.attr("transform", d => `translate(${mapB.x(d[0])},${mapB.y(d[1])})`)
	.attr("d", diamond.size(38)).attr("fill", "#34479f");
overlayB.selectAll("path.shelf").data(shelfMoorings).join("path").attr("class", "shelf")
	.attr("transform", d => `translate(${mapB.x(d[0])},${mapB.y(d[1])})`)
	.attr("d", diamond.size(46)).attr("fill", "#ed1c2e");
overlayB.selectAll("circle.site").data(radarSites).join("circle").attr("class", "site")
	.attr("cx", d => mapB.x(d[0])).attr("cy", d => mapB.y(d[1])).attr("r", 1.7).attr("fill", "#111");
drawMapFrame(mapB);
placeNames(mapB, [["Brisbane", 606.7, 88.3], ["Coffs", 586.7, 136.7], ["Harbour", 586.7, 155.5], ["Sydney", 556.7, 216.7]]);
mapB.g.append("text").attr("class", "sans").attr("x", 566.5).attr("y", 38).attr("font-size", 16).text("(b)");
mapB.g.append("text").attr("class", "serif").attr("x", 667).attr("y", 137.5).attr("font-size", 13).text("RRK");
mapB.g.append("text").attr("class", "serif").attr("x", 662.5).attr("y", 150.5).attr("font-size", 13).text("NNB");

// panel (b) legend
const legB = svg.append("g");
legB.append("rect").attr("x", 799.3).attr("y", 297.7).attr("width", 117.5).attr("height", 76).attr("fill", "#777");
legB.append("rect").attr("x", 798.3).attr("y", 296.7).attr("width", 116.7).attr("height", 75.5)
	.attr("fill", "#fff").attr("stroke", "#111").attr("stroke-width", 1.2);
const legY = d3.scalePoint(networkLabels, [305, 363.3]);
legB.selectAll("text").data(networkLabels).join("text").attr("class", "serif")
	.attr("x", (d, i) => i < 4 ? 833.3 : 822.7).attr("y", d => legY(d) + 4.5)
	.attr("font-size", (d, i) => i < 4 ? 15 : 14).attr("letter-spacing", (d, i) => i < 4 ? 0.4 : 0).text(d => d);
legB.selectAll("circle").data(networkLabels.slice(0, 3)).join("circle")
	.attr("cx", 813.5).attr("cy", legY).attr("r", 2.4).attr("fill", (d, i) => ["#b7b7b7", "#74d2df", "#66c53a"][i]);
legB.selectAll("path").data(networkLabels.slice(3)).join("path")
	.attr("transform", d => `translate(813.5,${legY(d)})`)
	.attr("d", diamond.size(38)).attr("fill", (d, i) => ["#34479f", "#ed1c2e"][i]);

// insets sit on a white sheet laid over the map
svg.append("rect").attr("x", 836).attr("y", 0).attr("width", 224).attr("height", 272).attr("fill", "#fff");

function drawInset(id, top, bottom, y32, y312, levels, sites, name, nameY, tag, tagY, axis) {
	const x = d3.scaleLinear([153, 153.5], [868.3, 900]);
	const y = d3.scaleLinear([-29.6, -31.2], [y32, y312]);
	const left = 860.7, right = 982.3;
	const g = svg.append("g");
	clipRect(id, left, top, right - left, bottom - top);
	const body = g.append("g").attr("clip-path", `url(#${id})`);
	const blob = d3.line().x(d => x(d[0])).y(d => y(d[1])).curve(d3.curveCatmullRomClosed);
	defs.append("clipPath").attr("id", id + "Blob").append("path").attr("d", blob(levels[0]));
	body.append("path").attr("d", blob(levels[0])).attr("fill", monthColour(levelValues[0]));
	body.append("g").attr("clip-path", `url(#${id}Blob)`)
		.selectAll("path.level").data(levels.slice(1)).join("path").attr("class", "level")
		.attr("d", blob).attr("fill", (d, i) => monthColour(levelValues[i + 1]))
		.attr("filter", "url(#soft)");
	const plain = d3.line().x(d => x(d[0])).y(d => y(d[1])).curve(d3.curveCatmullRom);
	body.append("path").attr("d", plain(insetCoast)).attr("fill", "none").attr("stroke", "#aaa").attr("stroke-width", 0.7);
	body.selectAll("path.iso").data(insetIsobaths).join("path").attr("class", "iso")
		.attr("d", plain).attr("fill", "none").attr("stroke", "#111").attr("stroke-width", 1.2);
	const grid = body.append("g").attr("stroke", "#222").attr("stroke-width", 1).attr("stroke-dasharray", "1.3,6.5");
	grid.selectAll("line.h").data(insetLats).join("line").attr("x1", left).attr("x2", right).attr("y1", y).attr("y2", y);
	grid.selectAll("line.v").data(insetLons).join("line").attr("x1", x).attr("x2", x).attr("y1", top).attr("y2", bottom);
	body.selectAll("circle").data(sites).join("circle")
		.attr("cx", d => x(d[0])).attr("cy", d => y(d[1])).attr("r", 2).attr("fill", "#111");
	g.append("rect").attr("x", left).attr("y", top).attr("width", right - left).attr("height", bottom - top)
		.attr("fill", "none").attr("stroke", "#111").attr("stroke-width", 1.3);
	g.append("g").attr("transform", `translate(${left},0)`)
		.call(d3.axisLeft(y).tickValues(insetLats).tickSize(0).tickPadding(1).tickFormat(d => minus(d)))
		.call(a => a.select(".domain").remove())
		.call(a => a.selectAll("text").attr("class", "serif").attr("font-size", 12.5))
		.call(a => addDegrees(a, 6));
	if (axis) {
		g.append("g").attr("transform", `translate(0,${bottom})`)
			.call(d3.axisBottom(x).tickValues(insetLons).tickSize(0).tickPadding(5).tickFormat(d => d))
			.call(a => a.select(".domain").remove())
			.call(a => a.selectAll("text").attr("class", "serif").attr("font-size", 12.5))
			.call(a => addDegrees(a, 6));
	}
	g.append("text").attr("class", "serif").attr("x", 865.5).attr("y", nameY).attr("font-size", 11.5).text(name);
	g.append("text").attr("class", "sans").attr("x", 865.5).attr("y", tagY).attr("font-size", 13.5).text(tag);

	const bar = d3.scaleLinear([0, 24], [bottom + 0.5, top]);
	const steps = d3.range(0, 24, 0.5);
	g.selectAll("rect.step").data(steps).join("rect").attr("class", "step")
		.attr("x", 987.5).attr("width", 6.5)
		.attr("y", d => bar(d + 0.5)).attr("height", d => bar(d) - bar(d + 0.5) + 0.3)
		.attr("fill", d => monthColour(d + 0.25));
}

drawInset("clipC", 26, 141, 32.5, 135, coverageC, [[153.21,-29.99],[152.99,-30.63]], "RRK", 52.5, "(c)", 39.5, false);
drawInset("clipD", 143.3, 257.7, 149, 252.3, coverageD, [[153.21,-29.98],[153,-30.63]], "NNB", 231.5, "(d)", 162, true);
svg.append("text").attr("class", "serif").attr("transform", "translate(1031,130) rotate(-90)")
	.attr("text-anchor", "middle").attr("font-size", 14.5).text("Percent coverage");
svg.append("text").attr("class", "serif").attr("x", 1015).attr("y", 88).attr("font-size", 13).text("0");

// panel (e)
const start = new Date(Date.UTC(2011, 11, 22));
const day = 864e5;
const barDates = d3.range(sstTop.length).map(i => new Date(+start + i * 4 * day));
const x = d3.scaleUtc([start, new Date(+start + 734.6 * day)], [51.6, 928]);
const y = d3.scaleLinear([0, 10], [618.7, 415.7]);

const rows = barDates.map((date, i) => ({
	date,
	"SSH AVISO": sshAviso[i],
	"SST NAVO": sstTop[i] - sshAviso[i] - sssAquarius[i] - argo[i],
	"SSS AQUARIUS": sssAquarius[i],
	"ARGO": argo[i],
	"GLIDERS": gliders[i],
	"HF RADAR": Math.max(0, hfTop[i] - sstTop[i] - gliders[i]),
	"XBT": xbt[i],
	"NSW moorings": nswMoorings[i],
	"SEQ": seq[i],
	"EAC array": Math.max(0, totalTop[i] - hfTop[i] - xbt[i] - nswMoorings[i] - seq[i])
}));
const stacked = d3.stack().keys(seriesNames)(rows);

const e = svg.append("g");
e.append("rect").attr("x", 51.6).attr("y", 415.7).attr("width", 876.4).attr("height", 203).attr("fill", "#fcfcfc");
const eGrid = e.append("g").attr("stroke", "#222").attr("stroke-width", 1.1).attr("stroke-dasharray", "1.5,8.5");
eGrid.selectAll("line.h").data(d3.range(1, 10)).join("line").attr("x1", 51.6).attr("x2", 928).attr("y1", y).attr("y2", y);
eGrid.selectAll("line.v").data(x.ticks(d3.utcMonth.every(monthTickStep))).join("line")
	.attr("x1", x).attr("x2", x).attr("y1", 415.7).attr("y2", 618.7);

clipRect("clipE", 51.6, 415.7, 876.4, 203);
// only the blue layers show the pale seams between bars
e.append("g").attr("clip-path", "url(#clipE)").selectAll("g").data(stacked).join("g")
	.attr("fill", (d, i) => seriesColours[i])
	.selectAll("rect").data((d, i) => d.map(v => Object.assign(v, { seam: i < 4 ? -0.3 : 0.1 }))).join("rect")
	.attr("x", d => x(d.data.date))
	.attr("width", d => x(new Date(+d.data.date + 4 * day)) - x(d.data.date) + d.seam)
	.attr("y", d => y(d[1]))
	.attr("height", d => Math.max(0, y(d[0]) - y(d[1])));

e.append("rect").attr("x", 51.6).attr("y", 415.7).attr("width", 876.4).attr("height", 203)
	.attr("fill", "none").attr("stroke", "#111").attr("stroke-width", 1.4);
e.append("g").attr("transform", "translate(51.6,0)")
	.call(d3.axisLeft(y).tickValues(d3.range(0, 11)).tickSize(0).tickPadding(3).tickFormat(d3.format("d")))
	.call(a => a.select(".domain").remove())
	.call(a => a.selectAll("text").attr("class", "serif").attr("font-size", 16));
e.append("g").attr("transform", "translate(0,618.7)")
	.call(d3.axisBottom(x).ticks(d3.utcMonth.every(monthTickStep)).tickSize(0).tickPadding(9).tickFormat(d3.utcFormat("%b")))
	.call(a => a.select(".domain").remove())
	.call(a => a.selectAll("text").attr("class", "serif").attr("font-size", 16));
e.append("text").attr("class", "serif").attr("transform", "translate(21.5,518) rotate(-90)")
	.attr("text-anchor", "middle").attr("font-size", 16.5).text("Number of observations");
e.append("text").attr("class", "sans").attr("x", 69).attr("y", 442).attr("font-size", 16).text("(e)");
const scaleNote = e.append("text").attr("class", "serif").attr("x", 48).attr("y", 408).attr("font-size", 13.5);
scaleNote.append("tspan").text("x 10");
scaleNote.append("tspan").attr("dy", -9).attr("dx", 2).attr("font-size", 13.5).text("4");

// panel (e) legend
const legE = svg.append("g");
legE.append("rect").attr("x", 935).attr("y", 439.7).attr("width", 124.3).attr("height", 146.6).attr("fill", "#777");
legE.append("rect").attr("x", 934).attr("y", 438.7).attr("width", 124.3).attr("height", 146.6)
	.attr("fill", "#fff").attr("stroke", "#111").attr("stroke-width", 1.4);
const legEY = d3.scalePoint(seriesNames, [447, 577.3]);
legE.selectAll("rect.sw").data(seriesNames).join("rect").attr("class", "sw")
	.attr("x", 939).attr("width", 28).attr("y", d => legEY(d) - 5.7).attr("height", 11.4)
	.attr("fill", (d, i) => seriesColours[i]);
legE.selectAll("text").data(seriesNames).join("text").attr("class", "serif")
	.attr("x", 969).attr("y", d => legEY(d) + 4.2).attr("font-size", 13).text(d => d);
</script>
</body>
</html>
